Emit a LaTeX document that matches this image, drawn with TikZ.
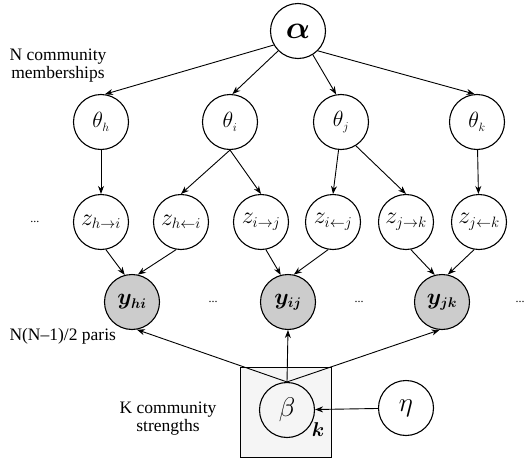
\RequirePackage{fix-cm}
\documentclass[tikz,border=0pt]{standalone}
\usepackage{fontspec}
\setmainfont{Liberation Serif}
\usepackage{amsmath,bm}
\usetikzlibrary{arrows.meta}
\DeclareMathSizes{24}{24}{15}{12}
\DeclareMathSizes{22}{22}{12}{10}
\DeclareMathSizes{23}{23}{14}{11}
\begin{document}
\begin{tikzpicture}[x=1pt,y=-1pt,
  var/.style={circle,draw,line width=1.1pt,minimum size=55pt,inner sep=0pt},
  obs/.style={var,fill=gray!40},
  arr/.style={-{Stealth[length=8pt,width=6pt]},line width=0.9pt},
  lbl/.style={font=\fontsize{17.5}{18}\selectfont,align=center},
  dots/.style={font=\fontsize{12}{12}\selectfont},
  thfont/.style={font=\fontsize{22}{22}\selectfont},
  zfont/.style={font=\fontsize{24}{24}\selectfont}]
\useasboundingbox (0,0) rectangle (528,458);

% plate
\draw[fill=gray!8,line width=0.9pt] (240,367) rectangle (331,457);

% nodes
\node[var,font=\fontsize{32}{32}\selectfont] (alpha) at (298,31) {$\bm{\alpha}$};

\node[var,thfont] (thetah) at (101,122) {$\theta_h$};
\node[var,thfont] (thetai) at (230,122) {$\theta_i$};
\node[var,thfont] (thetaj) at (341,122) {$\theta_j$};
\node[var,thfont] (thetak) at (477,122) {$\theta_k$};

\node[var,zfont] (zhr) at (101,222) {$z_{h\rightarrow i}$};
\node[var,zfont] (zhl) at (181,222) {$z_{h\leftarrow i}$};
\node[var,zfont] (zir) at (261,222) {$z_{i\rightarrow j}$};
\node[var,zfont] (zil) at (333,222) {$z_{i\leftarrow j}$};
\node[var,zfont] (zjr) at (406,222) {$z_{j\rightarrow k}$};
\node[var,zfont] (zjl) at (479,222) {$z_{j\leftarrow k}$};

\node[obs,font=\fontsize{23}{23}\selectfont] (yhi) at (132,302) {$\bm{y}_{\bm{hi}}$};
\node[obs,font=\fontsize{23}{23}\selectfont] (yij) at (288,302) {$\bm{y}_{\bm{ij}}$};
\node[obs,font=\fontsize{23}{23}\selectfont] (yjk) at (442,302) {$\bm{y}_{\bm{jk}}$};

\node[var,font=\fontsize{27}{27}\selectfont] (beta) at (287,410) {$\beta$};
\node[var,font=\fontsize{27}{27}\selectfont] (eta) at (406,408) {$\eta$};
\node[font=\fontsize{20}{20}\selectfont] (klbl) at (318,430) {$\bm{k}$};

% dots
\node[dots] (d1) at (35,222) {...};
\node[dots] (d2) at (213,302) {...};
\node[dots] (d3) at (359,302) {...};
\node[dots] (d4) at (520,302) {...};

% labels
\node[lbl] (lmem) at (58,66) {N community\\memberships};
\node[lbl,anchor=west] (lpairs) at (6,336) {N(N–1)/2 paris};
\node[lbl] (lstr) at (168,419) {K community\\strengths};

% alpha -> theta
\draw[arr] (alpha.210) -- (thetah.82);
\draw[arr] (alpha.225) -- (thetai.85);
\draw[arr] (alpha.-58) -- (thetaj.100);
\draw[arr] (alpha.-45) -- (thetak.95);

% theta -> z
\draw[arr] (thetah) -- (zhr);
\draw[arr] (thetai.south) -- (zhl.north);
\draw[arr] (thetai.south) -- (zir.north);
\draw[arr] (thetaj.-95) -- (zil.north);
\draw[arr] (thetaj.-58) -- (zjr.north);
\draw[arr] (thetak) -- (zjl);

% z -> y
\draw[arr] (zhr.-80) -- (yhi.105);
\draw[arr] (zhl.-100) -- (yhi.78);
\draw[arr] (zir.-80) -- (yij.105);
\draw[arr] (zil.-100) -- (yij.78);
\draw[arr] (zjr.-80) -- (yjk.105);
\draw[arr] (zjl.-100) -- (yjk.78);

% beta -> y
\draw[arr] (beta.north) -- (yhi.-80);
\draw[arr] (beta.north) -- (yij.south);
\draw[arr] (beta.north) -- (yjk.-95);
\draw[arr] (eta) -- (beta);
\end{tikzpicture}
\end{document}
